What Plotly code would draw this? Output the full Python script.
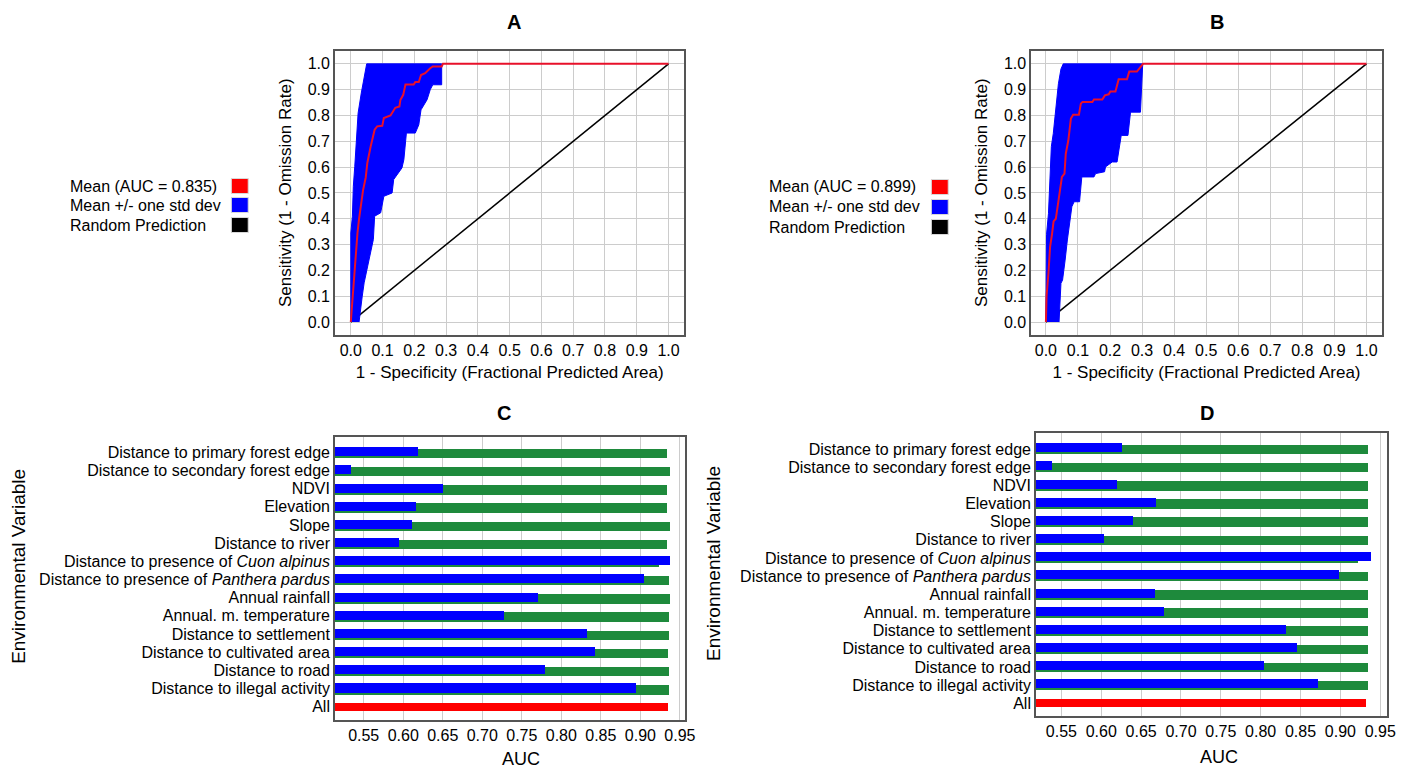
import plotly.graph_objects as go

W, H = 1413, 769

# ---------------- ROC data (panel A) ----------------
a_mean_x = [0.0, 0.0125, 0.021, 0.026, 0.031, 0.0385, 0.047, 0.052, 0.0625, 0.071, 0.075, 0.083, 0.099,
            0.104, 0.125, 0.14, 0.153, 0.156, 0.165, 0.172, 0.198, 0.203, 0.214, 0.221, 0.234, 0.25,
            0.258, 0.286, 0.29, 1.0]
a_mean_y = [0.0, 0.23, 0.345, 0.40, 0.45, 0.51, 0.56, 0.616, 0.68, 0.73, 0.745, 0.758, 0.76,
            0.79, 0.80, 0.83, 0.835, 0.86, 0.88, 0.92, 0.92, 0.93, 0.93, 0.957, 0.964, 0.983,
            0.99, 0.99, 1.0, 1.0]
a_upper_x = [0.0, 0.0, 0.005, 0.008, 0.0125, 0.0167, 0.023, 0.033, 0.042, 0.05]
a_upper_y = [0.0, 0.345, 0.41, 0.526, 0.603, 0.693, 0.809, 0.887, 0.945, 1.0]
a_lower_x = [0.026, 0.036, 0.042, 0.052, 0.060, 0.071, 0.075, 0.094, 0.104, 0.130, 0.135, 0.161,
             0.167, 0.175, 0.203, 0.214, 0.221, 0.240, 0.25, 0.258, 0.286, 0.286]
a_lower_y = [0.0, 0.1, 0.152, 0.204, 0.255, 0.32, 0.41, 0.423, 0.487, 0.5, 0.552, 0.597,
             0.629, 0.732, 0.732, 0.764, 0.822, 0.861, 0.9, 0.919, 0.919, 1.0]

# ---------------- ROC data (panel B) ----------------
b_mean_x = [0.0, 0.002, 0.008, 0.013, 0.019, 0.024, 0.031, 0.036, 0.043, 0.05, 0.058, 0.062, 0.070,
            0.078, 0.085, 0.103, 0.109, 0.114, 0.145, 0.150, 0.176, 0.184, 0.196, 0.201, 0.217,
            0.227, 0.253, 0.26, 0.284, 0.303, 1.0]
b_mean_y = [0.0, 0.1, 0.19, 0.29, 0.34, 0.39, 0.40, 0.447, 0.51, 0.562, 0.575, 0.652, 0.704,
            0.788, 0.803, 0.803, 0.846, 0.852, 0.852, 0.862, 0.862, 0.878, 0.882, 0.893, 0.893,
            0.94, 0.94, 0.97, 0.97, 1.0, 1.0]
b_upper_x = [0.0, 0.002, 0.008, 0.012, 0.017, 0.023, 0.031, 0.039, 0.047, 0.054]
b_upper_y = [0.0, 0.34, 0.42, 0.56, 0.68, 0.73, 0.82, 0.923, 0.98, 1.0]
b_lower_x = [0.041, 0.047, 0.052, 0.06, 0.067, 0.072, 0.081, 0.088, 0.105, 0.112, 0.150, 0.155,
             0.183, 0.186, 0.207, 0.222, 0.227, 0.235, 0.256, 0.264, 0.295, 0.298, 0.302]
b_lower_y = [0.0, 0.15, 0.163, 0.24, 0.318, 0.369, 0.447, 0.466, 0.466, 0.562, 0.562, 0.575,
             0.582, 0.601, 0.62, 0.62, 0.652, 0.723, 0.723, 0.813, 0.813, 0.916, 1.0]

random_x = [0.0, 1.0]
random_y = [0.0, 1.0]

a_auc = "0.835"
b_auc = "0.899"

# ---------------- Jackknife data (panels C, D) ----------------
variables = [
    "Distance to primary forest edge",
    "Distance to secondary forest edge",
    "NDVI",
    "Elevation",
    "Slope",
    "Distance to river",
    "Distance to presence of <i>Cuon alpinus</i>",
    "Distance to presence of <i>Panthera pardus</i>",
    "Annual rainfall",
    "Annual. m. temperature",
    "Distance to settlement",
    "Distance to cultivated area",
    "Distance to road",
    "Distance to illegal activity",
]
all_label = "All"

c_without = [0.934, 0.937, 0.934, 0.934, 0.937, 0.933, 0.923, 0.936, 0.937, 0.936, 0.936, 0.935, 0.936, 0.936]
c_only = [0.619, 0.534, 0.650, 0.616, 0.611, 0.595, 0.937, 0.904, 0.771, 0.728, 0.833, 0.842, 0.779, 0.894]
c_all = [0.935]

d_without = [0.934, 0.935, 0.934, 0.934, 0.934, 0.934, 0.922, 0.935, 0.934, 0.934, 0.934, 0.934, 0.934, 0.935]
d_only = [0.626, 0.538, 0.620, 0.668, 0.640, 0.603, 0.938, 0.898, 0.667, 0.678, 0.832, 0.846, 0.804, 0.872]
d_all = [0.932]

legend_labels = ["Mean (AUC = {})", "Mean +/- one std dev", "Random Prediction"]
legend_colors = ["#ff0000", "#0000ff", "#000000"]

FONT = "Liberation Sans, Arial, sans-serif"
RED = "#ff0000"
BLUE = "#0000ff"
GREEN = "#1e8a3c"
GRID = "#cccccc"
FRAME = "#555555"


def fx(p):
    return p / W


def fy(p):
    return 1 - p / H


fig = go.Figure()


def add_roc(xa, ya, mx, my, ux, uy, lx, ly):
    fig.add_trace(go.Scatter(x=random_x, y=random_y, mode="lines", xaxis=xa, yaxis=ya,
                             line=dict(color="black", width=1.5), showlegend=False, hoverinfo="skip"))
    bx = list(ux) + list(lx[::-1])
    by = list(uy) + list(ly[::-1])
    fig.add_trace(go.Scatter(x=bx, y=by, mode="lines", fill="toself", fillcolor=BLUE, xaxis=xa, yaxis=ya,
                             line=dict(color=BLUE, width=1), showlegend=False, hoverinfo="skip"))
    fig.add_trace(go.Scatter(x=mx, y=my, mode="lines", xaxis=xa, yaxis=ya,
                             line=dict(color="#e8102a", width=2), showlegend=False))


add_roc("x", "y", a_mean_x, a_mean_y, a_upper_x, a_upper_y, a_lower_x, a_lower_y)
add_roc("x2", "y2", b_mean_x, b_mean_y, b_upper_x, b_upper_y, b_lower_x, b_lower_y)


def add_jack(xa, ya, without, only, allv):
    fig.add_trace(go.Bar(y=variables, x=without, orientation="h", xaxis=xa, yaxis=ya,
                         marker=dict(color=GREEN, line=dict(width=0)), width=0.52, offset=-0.21,
                         showlegend=False))
    fig.add_trace(go.Bar(y=variables, x=only, orientation="h", xaxis=xa, yaxis=ya,
                         marker=dict(color=BLUE, line=dict(width=0)), width=0.50, offset=-0.30,
                         showlegend=False))
    fig.add_trace(go.Bar(y=[all_label], x=allv, orientation="h", xaxis=xa, yaxis=ya,
                         marker=dict(color=RED, line=dict(width=0)), width=0.46, offset=-0.23,
                         showlegend=False))


add_jack("x3", "y3", c_without, c_only, c_all)
add_jack("x4", "y4", d_without, d_only, d_all)

tick_font = dict(family=FONT, size=16, color="black")

roc_x = dict(range=[-0.05, 1.05], tickmode="linear", tick0=0, dtick=0.1, tickformat=".1f",
             showgrid=True, gridcolor=GRID, gridwidth=1, zeroline=False, showline=True, linecolor=FRAME,
             linewidth=1.5, mirror=True, ticks="", tickfont=tick_font,
             title=dict(text="1 - Specificity (Fractional Predicted Area)",
                        font=dict(family=FONT, size=17, color="black"), standoff=8))
roc_y = dict(range=[-0.049, 1.051], tickmode="linear", tick0=0, dtick=0.1, tickformat=".1f",
             showgrid=True, gridcolor=GRID, gridwidth=1, zeroline=False, showline=True, linecolor=FRAME,
             linewidth=1.5, mirror=True, ticks="", tickfont=tick_font,
             title=dict(text="Sensitivity (1 - Omission Rate)",
                        font=dict(family=FONT, size=17, color="black"), standoff=12))

cats = variables + [all_label]
jack_x = dict(tickmode="linear", tick0=0.5, dtick=0.05, tickformat=".2f", showgrid=True, gridcolor=GRID,
              zeroline=False, showline=True, linecolor=FRAME, linewidth=1.5, mirror=True, ticks="",
              tickfont=tick_font)
jack_y = dict(type="category", categoryorder="array", categoryarray=cats, showgrid=False,
              tickmode="array", tickvals=cats, ticktext=cats,
              showline=True, linecolor=FRAME, linewidth=1.5, mirror=True, ticks="",
              tickfont=dict(family=FONT, size=16, color="black"))

fig.update_layout(
    width=W, height=H, margin=dict(l=0, r=0, t=0, b=0),
    paper_bgcolor="white", plot_bgcolor="white", barmode="overlay", bargap=0,
    font=dict(family=FONT, color="black"),
    xaxis=dict(roc_x, domain=[fx(337.3), fx(689.3)], anchor="y"),
    yaxis=dict(roc_y, domain=[fy(334.7), fy(50.7)], anchor="x"),
    xaxis2=dict(roc_x, domain=[fx(1038.5), fx(1391.7)], anchor="y2", range=[-0.046, 1.048]),
    yaxis2=dict(roc_y, domain=[fy(334.7), fy(50.7)], anchor="x2"),
    xaxis3=dict(jack_x, domain=[fx(337.3), fx(690.0)], anchor="y3", range=[0.5136, 0.9566]),
    yaxis3=dict(jack_y, domain=[fy(720.0), fy(436.7)], anchor="x3", range=[14.73, -0.86]),
    xaxis4=dict(jack_x, domain=[fx(1043.3), fx(1397.3)], anchor="y4", range=[0.518, 0.959]),
    yaxis4=dict(jack_y, domain=[fy(716.0), fy(433.3)], anchor="x4", range=[14.70, -0.86]),
)

ann = []
for txt, x, y in [("A", 518, 22), ("B", 1226, 22), ("C", 508, 413), ("D", 1216, 413)]:
    ann.append(dict(text="<b>%s</b>" % txt, x=fx(x), y=fy(y), xref="paper", yref="paper",
                    showarrow=False, xanchor="center", yanchor="middle",
                    font=dict(family=FONT, size=20, color="black")))
for x, y in [(18, 566), (718, 563)]:
    ann.append(dict(text="Environmental Variable", x=fx(x), y=fy(y), xref="paper", yref="paper",
                    showarrow=False, textangle=-90, xanchor="center", yanchor="middle",
                    font=dict(family=FONT, size=19, color="black")))
for x, y in [(525, 759), (1228, 757)]:
    ann.append(dict(text="AUC", x=fx(x), y=fy(y), xref="paper", yref="paper",
                    showarrow=False, xanchor="center", yanchor="middle",
                    font=dict(family=FONT, size=18, color="black")))

shapes = []
for (tx, sx, rows, auc) in [(68, 233, [186, 205, 225], a_auc), (772, 938, [187, 207, 227], b_auc)]:
    for i, lab in enumerate(legend_labels):
        text = lab.format(auc) if "{}" in lab else lab
        ann.append(dict(text=text, x=fx(tx), y=fy(rows[i]), xref="paper", yref="paper",
                        showarrow=False, xanchor="left", yanchor="middle",
                        font=dict(family=FONT, size=16, color="black")))
        shapes.append(dict(type="rect", xref="paper", yref="paper",
                           x0=fx(sx), x1=fx(sx + 17), y0=fy(rows[i] + 7.5), y1=fy(rows[i] - 7.5),
                           fillcolor=legend_colors[i], line=dict(color="#d8d8d8", width=1)))

fig.update_layout(annotations=ann, shapes=shapes)

fig.write_html("out.html", config={"displayModeBar": False},
               post_script="document.body.style.margin='0';document.body.style.overflow='hidden';")
